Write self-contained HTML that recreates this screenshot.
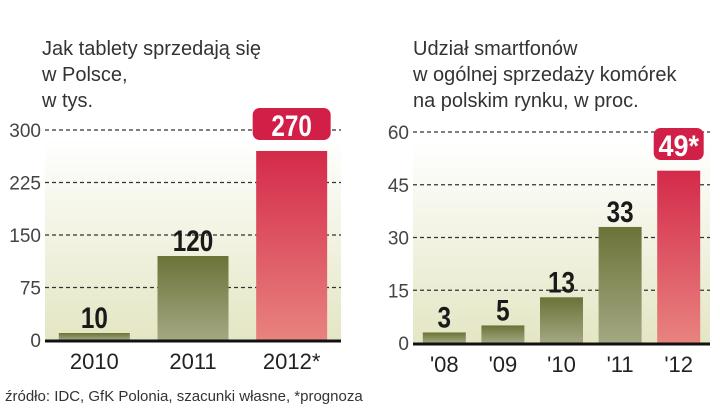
<!DOCTYPE html>
<html><head><meta charset="utf-8"><style>
html,body{margin:0;padding:0;background:#fff}
svg{display:block;font-family:"Liberation Sans",sans-serif}
</style></head><body>
<svg width="720" height="410" viewBox="0 0 720 410">
<defs>
<linearGradient id="bg" x1="0" y1="0" x2="0" y2="1"><stop offset="0" stop-color="#fff"/><stop offset="1" stop-color="#e4e6c4"/></linearGradient>
<linearGradient id="gr" x1="0" y1="0" x2="0" y2="1"><stop offset="0" stop-color="#6b7338"/><stop offset="1" stop-color="#a3a882"/></linearGradient>
<linearGradient id="rd" x1="0" y1="0" x2="0" y2="1"><stop offset="0" stop-color="#d42a4a"/><stop offset="1" stop-color="#e8837f"/></linearGradient>
</defs>
<g fill="#333" font-size="20">
<text x="42" y="55">Jak tablety sprzedają się</text><text x="42" y="81">w Polsce,</text><text x="42" y="107">w tys.</text></g>
<g fill="#333" font-size="20">
<text x="413" y="55">Udział smartfonów</text><text x="413" y="81">w ogólnej sprzedaży komórek</text><text x="413" y="107">na polskim rynku, w proc.</text></g>
<g id="left"></g>
<g id="right"></g>
<text x="5" y="401" font-size="15" fill="#333">źródło: IDC, GfK Polonia, szacunki własne, *prognoza</text>
</svg>
<script>
const leftCats=["2010","2011","2012*"];
const leftVals=[10,120,270];
const leftTicks=[0,75,150,225,300];
const rightCats=["'08","'09","'10","'11","'12"];
const rightVals=[3,5,13,33,49];
const rightTicks=[0,15,30,45,60];
const rightLabels=["3","5","13","33","49*"];
const NS="http://www.w3.org/2000/svg";
function mk(p,t,a){const e=document.createElementNS(NS,t);for(const k in a)e.setAttribute(k,a[k]);p.appendChild(e);return e;}
function draw(g,cats,vals,ticks,labels,o){
  const y=v=>o.y0-(v/ticks[ticks.length-1])*(o.y0-o.yTop);
  const bg=mk(g,'rect',{x:o.x0,y:y(ticks[ticks.length-1])+8,width:o.x1-o.x0,height:o.y0-y(ticks[ticks.length-1])-8,fill:'url(#bg)'});
  
  
  ticks.forEach(t=>{
    if(t>0){const l=mk(g,'line',{x1:o.x0,x2:o.x1,y1:y(t),y2:y(t),stroke:'#333','stroke-width':1.2,'stroke-dasharray':'4,3'});
    
    }
    const tx=mk(g,'text',{x:o.x0-4,y:y(t)+7,'text-anchor':'end','font-size':19,fill:'#444'});tx.textContent=t;
    
    
  });
  const n=cats.length,step=(o.x1-o.x0-o.pad*2)/n;
  cats.forEach((c,i)=>{
    const bx=o.x0+o.pad+i*step+(step-o.bw)/2,last=i===n-1,v=vals[i];
    const r=mk(g,'rect',{x:bx,y:y(v),width:o.bw,height:o.y0-y(v),fill:last?'url(#rd)':'url(#gr)'});
    
    
    const cx=bx+o.bw/2;
    const lw=labels[i].length*13.5;
    if(last){
      const bh=32,bw=o.badgeW;
      const b=mk(g,'rect',{x:cx-bw/2,y:o.badgeY,width:bw,height:bh,rx:7,fill:'#d21f47'});
      
      
      const t=mk(g,'text',{x:cx,y:o.badgeY+28,'text-anchor':'middle','font-size':30,'font-weight':'bold',fill:'#fff',textLength:lw,lengthAdjust:'spacingAndGlyphs'});t.textContent=labels[i];
      
      
    } else {
      const t=mk(g,'text',{x:cx,y:y(v)-5,'text-anchor':'middle','font-size':30,'font-weight':'bold',fill:'#1a1a1a',textLength:lw,lengthAdjust:'spacingAndGlyphs'});t.textContent=labels[i];
      
      
    }
    const xl=mk(g,'text',{x:cx,y:o.y0+29,'text-anchor':'middle','font-size':22,fill:'#222'});xl.textContent=c;
    
    
  });
  const ax=mk(g,'line',{x1:o.x0,x2:o.x1,y1:o.y0+1,y2:o.y0+1,stroke:'#111','stroke-width':3});
  
  
}
draw(document.getElementById('left'),leftCats,leftVals,leftTicks,leftVals.map(String),{x0:45,x1:341,y0:340,yTop:130,pad:0,bw:71,badgeY:108,badgeW:78});
draw(document.getElementById('right'),rightCats,rightVals,rightTicks,rightLabels,{x0:413,x1:710,y0:343,yTop:132,pad:2,bw:43,badgeY:128,badgeW:50});
</script>
</body></html>
